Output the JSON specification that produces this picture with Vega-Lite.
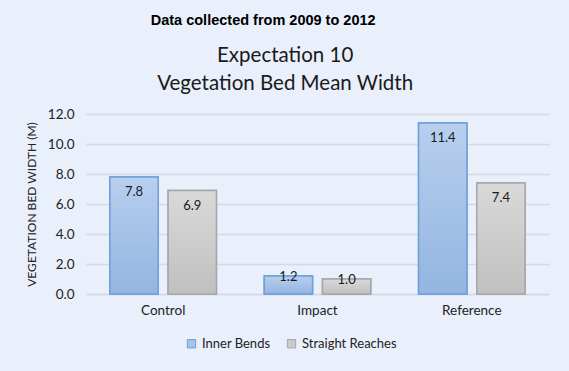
{
  "$schema": "https://vega.github.io/schema/vega-lite/v6.json",
  "padding": {"left": 25, "top": 13, "right": 22, "bottom": 26},
  "background": "#e9effb",
  "title": {
    "text": "Data collected from 2009 to 2012",
    "font": "Liberation Sans",
    "fontSize": 14.5,
    "fontWeight": "bold",
    "color": "#000000",
    "anchor": "middle",
    "dx": -24,
    "offset": 17
  },
  "vconcat": [
    {
      "width": 463,
      "height": 180,
      "title": {
        "text": ["Expectation  10", "Vegetation  Bed  Mean  Width"],
        "font": "Lato",
        "fontSize": 20.5,
        "fontWeight": "normal",
        "color": "#1a1a1a",
        "lineHeight": 28,
        "anchor": "middle",
        "frame": "bounds",
        "dx": -2,
        "offset": 13
      },
      "data": {
        "values": [
          {"site": "Control", "series": "Inner Bends", "value": 7.8},
          {"site": "Control", "series": "Straight Reaches", "value": 6.9},
          {"site": "Impact", "series": "Inner Bends", "value": 1.2},
          {"site": "Impact", "series": "Straight Reaches", "value": 1.0},
          {"site": "Reference", "series": "Inner Bends", "value": 11.4},
          {"site": "Reference", "series": "Straight Reaches", "value": 7.4}
        ]
      },
      "encoding": {
        "x": {
          "field": "site",
          "type": "nominal",
          "sort": ["Control", "Impact", "Reference"],
          "scale": {"paddingInner": 0.31, "paddingOuter": 0.155},
          "axis": {
            "title": null,
            "labelAngle": 0,
            "labelFont": "Lato",
            "labelFontSize": 13.5,
            "labelColor": "#222222",
            "labelPadding": 9,
            "ticks": false,
            "domainColor": "#d6d9e0",
            "domainWidth": 1.5
          }
        },
        "xOffset": {
          "field": "series",
          "type": "nominal",
          "sort": ["Inner Bends", "Straight Reaches"],
          "scale": {"paddingInner": 0.17, "paddingOuter": 0}
        },
        "y": {
          "field": "value",
          "type": "quantitative",
          "scale": {"domain": [0, 12], "nice": false},
          "axis": {
            "title": "VEGETATION BED WIDTH (M)",
            "titleFont": "Lato",
            "titleFontSize": 12,
            "titleFontWeight": "normal",
            "titleColor": "#222222",
            "titlePadding": 9,
            "values": [0, 2, 4, 6, 8, 10, 12],
            "format": ".1f",
            "labelFont": "Lato",
            "labelFontSize": 13.5,
            "labelColor": "#222222",
            "labelPadding": 12,
            "ticks": false,
            "domain": false,
            "grid": true,
            "gridColor": "#d6d9e0",
            "gridWidth": 1.5
          }
        }
      },
      "layer": [
        {
          "mark": {"type": "bar", "strokeWidth": 1.5},
          "encoding": {
            "fill": {
              "field": "series",
              "type": "nominal",
              "scale": {"domain": ["Inner Bends", "Straight Reaches"], "range": ["#a6c3e8", "#cbcbcb"]},
              "legend": {
                "title": null,
                "orient": "none",
                "legendX": 99,
                "legendY": 223,
                "direction": "horizontal",
                "symbolType": "square",
                "symbolSize": 70,
                "symbolStrokeWidth": 1,
                "labelFont": "Lato",
                "labelFontSize": 13,
                "labelColor": "#222222",
                "columnPadding": 14,
                "labelOffset": 4
              }
            },
            "stroke": {
              "field": "series",
              "type": "nominal",
              "scale": {"domain": ["Inner Bends", "Straight Reaches"], "range": ["#6fa0d8", "#a6a6a6"]},
              "legend": {
                "title": null,
                "orient": "none",
                "legendX": 99,
                "legendY": 223,
                "direction": "horizontal",
                "symbolType": "square",
                "symbolSize": 70,
                "symbolStrokeWidth": 1,
                "labelFont": "Lato",
                "labelFontSize": 13,
                "labelColor": "#222222",
                "columnPadding": 14,
                "labelOffset": 4
              }
            }
          }
        },
        {
          "transform": [{"filter": "datum.series === 'Inner Bends'"}],
          "mark": {
            "type": "bar",
            "strokeWidth": 1.5,
            "stroke": "#6fa0d8",
            "fill": {
              "gradient": "linear",
              "x1": 0, "y1": 0, "x2": 0, "y2": 1,
              "stops": [
                {"offset": 0, "color": "#b8cfee"},
                {"offset": 1, "color": "#93b5e1"}
              ]
            }
          }
        },
        {
          "transform": [{"filter": "datum.series === 'Straight Reaches'"}],
          "mark": {
            "type": "bar",
            "strokeWidth": 1.5,
            "stroke": "#a6a6a6",
            "fill": {
              "gradient": "linear",
              "x1": 0, "y1": 0, "x2": 0, "y2": 1,
              "stops": [
                {"offset": 0, "color": "#d9d9d9"},
                {"offset": 1, "color": "#c0c0c0"}
              ]
            }
          }
        },
        {
          "transform": [{"filter": "datum.value >= 3"}],
          "mark": {"type": "text", "font": "Lato", "fontSize": 13, "color": "#1a1a1a", "baseline": "middle", "dy": 15},
          "encoding": {"text": {"field": "value", "type": "quantitative", "format": ".1f"}}
        },
        {
          "transform": [{"filter": "datum.value < 3"}],
          "mark": {"type": "text", "font": "Lato", "fontSize": 13, "color": "#1a1a1a", "baseline": "middle", "dy": 1},
          "encoding": {"text": {"field": "value", "type": "quantitative", "format": ".1f"}}
        }
      ]
    }
  ],
  "config": {
    "view": {"stroke": null},
    "concat": {"spacing": 0}
  }
}
